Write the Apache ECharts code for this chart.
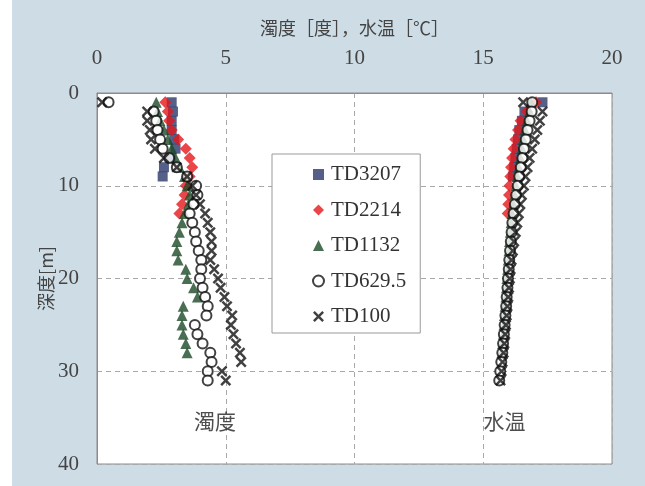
<!DOCTYPE html>
<html>
<head>
<meta charset="utf-8">
<script src="https://cdn.jsdelivr.net/npm/echarts@6/dist/echarts.min.js"></script>
<style>
html,body{margin:0;padding:0;background:#fff;}
#chart{width:645px;height:486px;background:linear-gradient(to right,#ffffff 12px,#cddce5 12px);}
</style>
</head>
<body>
<div id="chart"></div>
<script>
// ---- data ----
const seriesNames = ['TD3207', 'TD2214', 'TD1132', 'TD629.5', 'TD100'];
const xTicks = [0, 5, 10, 15, 20];
const yTicks = [0, 10, 20, 30, 40];

const depth3207 = [1,2,3,4,5,6,7,8,9];
const turb3207  = [2.9,2.95,2.9,2.9,3.0,3.05,2.85,2.6,2.55];
const temp3207  = [17.3,16.6,16.5,16.4,16.35,16.3,16.25,16.2,16.15];

const depth2214 = [1,2,3,4,5,6,7,8,9,10,11,12,13];
const turb2214  = [2.65,2.75,2.8,2.9,3.15,3.45,3.6,3.7,3.6,3.45,3.4,3.3,3.2];
const temp2214  = [17.05,16.7,16.45,16.35,16.25,16.18,16.12,16.08,16.05,16.02,16.0,15.97,15.95];

const depth1132 = [1,2,3,4,5,6,7,8,9,10,11,12,13,14,15,16,17,18,19,20,21,22,23,24,25,26,27,28];
const turb1132  = [2.3,2.35,2.45,2.6,2.75,2.9,3.05,3.2,3.4,3.5,3.6,3.55,3.4,3.3,3.2,3.1,3.1,3.15,3.45,3.5,3.75,3.9,3.35,3.3,3.3,3.35,3.45,3.5];
const temp1132  = [16.85,16.8,16.7,16.62,16.55,16.5,16.44,16.38,16.32,16.27,16.22,16.17,16.12,16.08,16.05,16.02,16.0,15.97,15.95,15.92,15.9,15.88,15.85,15.82,15.8,15.78,15.75,15.72];

const depth6295 = [1,2,3,4,5,6,7,8,9,10,11,12,13,14,15,16,17,18,19,20,21,22,23,24,25,26,27,28,29,30,31];
const turb6295  = [0.45,2.2,2.3,2.35,2.45,2.55,2.8,3.1,3.5,3.85,3.9,3.75,3.6,3.7,3.8,3.85,3.95,4.05,4.05,4.0,4.1,4.2,4.3,4.25,3.8,3.9,4.1,4.4,4.45,4.3,4.3];
const temp6295  = [16.9,16.88,16.8,16.72,16.65,16.58,16.52,16.46,16.4,16.34,16.28,16.23,16.18,16.13,16.1,16.07,16.04,16.01,15.99,15.96,15.94,15.91,15.89,15.86,15.83,15.8,15.77,15.74,15.7,15.66,15.62];

const depth100 = [1,2,3,4,5,6,7,8,9,10,11,12,13,14,15,16,17,18,19,20,21,22,23,24,25,26,27,28,29,30,31];
const turb100  = [0.2,1.95,1.95,2.05,2.1,2.25,2.6,3.1,3.5,3.7,3.85,4.0,4.2,4.3,4.4,4.45,4.45,4.4,4.55,4.7,4.8,4.95,5.05,5.25,5.2,5.3,5.4,5.55,5.6,4.85,5.0];
const temp100  = [16.55,17.3,17.2,17.1,17.0,16.9,16.8,16.72,16.64,16.58,16.5,16.44,16.38,16.32,16.26,16.2,16.15,16.1,16.06,16.03,16.0,15.97,15.94,15.91,15.88,15.85,15.82,15.79,15.75,15.71,15.67];

const noteTexts = ['濁度', '水温'];
const noteX     = [4.58, 15.83];
const noteDepth = [35.4, 35.4];

// ---- build ----
function pairs(depth, turb, temp) {
  const a = depth.map((d, i) => [turb[i], d]);
  const b = depth.map((d, i) => [temp[i], d]);
  return a.concat(b);
}
const crossPath = 'path://M0,1.6L1.6,0L5,3.4L8.4,0L10,1.6L6.6,5L10,8.4L8.4,10L5,6.6L1.6,10L0,8.4L3.4,5Z';

const seriesStyle = [
  {symbol: 'rect', size: 10, itemStyle: {color: '#2b386b'}},
  {symbol: 'diamond', size: 12, itemStyle: {color: '#e5161c'}},
  {symbol: 'triangle', size: 11, itemStyle: {color: '#1c4a27'}},
  {symbol: 'circle', size: 10, itemStyle: {color: '#ffffff', borderColor: '#111', borderWidth: 2}},
  {symbol: crossPath, size: 11, itemStyle: {color: '#111'}}
];
const allData = [
  pairs(depth3207, turb3207, temp3207),
  pairs(depth2214, turb2214, temp2214),
  pairs(depth1132, turb1132, temp1132),
  pairs(depth6295, turb6295, temp6295),
  pairs(depth100, turb100, temp100)
];

const series = seriesNames.map((n, i) => ({
  name: n,
  type: 'scatter',
  symbol: seriesStyle[i].symbol,
  symbolSize: seriesStyle[i].size,
  itemStyle: seriesStyle[i].itemStyle,
  data: allData[i],
  z: 2 + i
}));
series.push({
  name: 'notes',
  type: 'scatter',
  symbolSize: 0,
  silent: true,
  data: noteTexts.map((t, i) => ({name: t, value: [noteX[i], noteDepth[i]]})),
  label: {
    show: true, position: 'inside', formatter: '{b}',
    fontFamily: 'Noto Sans CJK JP', fontSize: 21, color: '#222'
  }
});

const serif = "'Liberation Serif', 'Times New Roman', serif";
const chart = echarts.init(document.getElementById('chart'), null, {renderer: 'canvas'});
chart.setOption({
  backgroundColor: 'transparent',
  animation: false,
  grid: {
    left: 97, top: 93, right: 33, bottom: 22,
    show: true, backgroundColor: '#ffffff', borderColor: '#8c8c8c', borderWidth: 1
  },
  legend: {
    data: seriesNames,
    orient: 'vertical',
    left: 272, top: 154,
    padding: [10, 14, 6, 40],
    itemGap: 14.5,
    itemWidth: 11, itemHeight: 11,
    backgroundColor: '#ffffff',
    borderColor: '#9a9a9a', borderWidth: 1,
    textStyle: {fontFamily: serif, fontSize: 21, color: '#333', padding: [0, 0, 0, 2]}
  },
  xAxis: {
    type: 'value', position: 'top',
    min: xTicks[0], max: xTicks[xTicks.length - 1], interval: 5,
    name: '濁度［度］，水温［℃］', nameLocation: 'middle', nameGap: 56, nameMoveOverlap: false,
    nameTextStyle: {fontFamily: 'Noto Sans CJK JP', fontSize: 18, color: '#444'},
    axisLine: {show: true, lineStyle: {color: '#8c8c8c'}},
    axisTick: {show: false},
    axisLabel: {margin: 24, fontFamily: serif, fontSize: 21, color: '#444'},
    splitLine: {show: true, lineStyle: {color: '#a8a8a8', type: [5, 4], width: 1}}
  },
  yAxis: {
    type: 'value', inverse: true,
    min: yTicks[0], max: yTicks[yTicks.length - 1], interval: 10,
    name: '深度[m]', nameLocation: 'middle', nameGap: 42, nameRotate: 90, nameMoveOverlap: false,
    nameTextStyle: {fontFamily: 'Noto Sans CJK JP', fontSize: 18, color: '#444'},
    axisLine: {show: true, lineStyle: {color: '#8c8c8c'}},
    axisTick: {show: false},
    axisLabel: {margin: 18, fontFamily: serif, fontSize: 21, color: '#444'},
    splitLine: {show: true, lineStyle: {color: '#a8a8a8', type: [5, 4], width: 1}}
  },
  series: series
});
</script>
</body>
</html>
